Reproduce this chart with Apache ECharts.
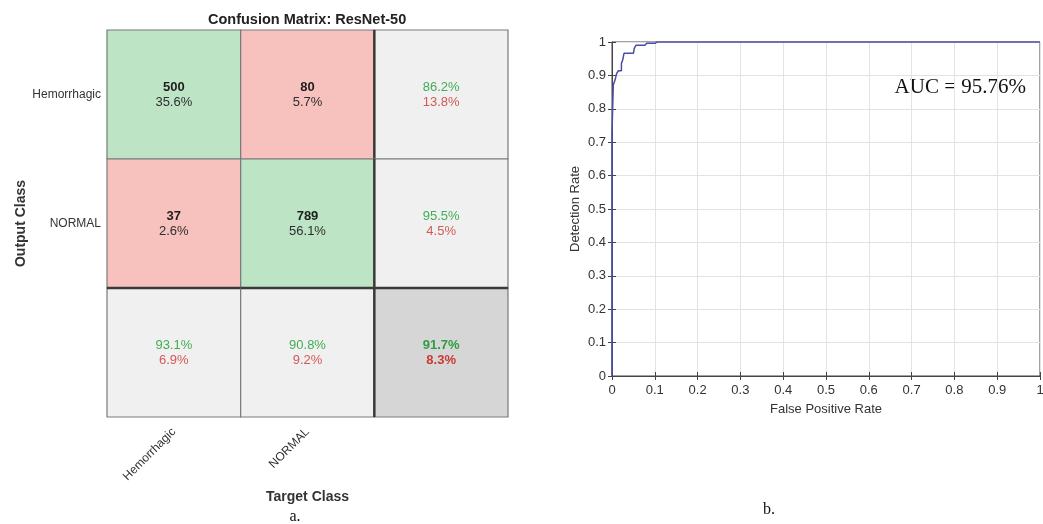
<!DOCTYPE html>
<html>
<head>
<meta charset="utf-8">
<script src="https://cdn.jsdelivr.net/npm/echarts@6/dist/echarts.min.js"></script>
<style>html,body{margin:0;padding:0;background:#fff}#c{width:1043px;height:524px}</style>
</head>
<body>
<div id="c"></div>
<script>
// ---- Confusion matrix data ----
const classes = ['Hemorrhagic', 'NORMAL'];
const counts = [[500, 80], [37, 789]];          // rows = output class, cols = target class
const cellPct = [[35.6, 5.7], [2.6, 56.1]];
const rowCorrect = [86.2, 95.5];
const rowWrong = [13.8, 4.5];
const colCorrect = [93.1, 90.8];
const colWrong = [6.9, 9.2];
const overall = [91.7, 8.3];

// ---- ROC data ----
const fpr = [0, 0, 0.002, 0.002, 0.003, 0.003, 0.007, 0.007, 0.011, 0.011, 0.015, 0.015, 0.022, 0.022, 0.025, 0.025, 0.028, 0.028, 0.05, 0.052, 0.052, 0.056, 0.056, 0.077, 0.081, 0.081, 0.1, 0.105, 1];
const tpr = [0, 0.726, 0.726, 0.826, 0.826, 0.871, 0.871, 0.886, 0.886, 0.906, 0.906, 0.914, 0.914, 0.936, 0.936, 0.946, 0.946, 0.966, 0.966, 0.966, 0.981, 0.981, 0.99, 0.99, 0.99, 0.996, 0.996, 1, 1];
const rocTicks = [0, 0.1, 0.2, 0.3, 0.4, 0.5, 0.6, 0.7, 0.8, 0.9, 1];

const FONT = 'Liberation Sans, Arial, sans-serif';
const SERIF = 'Liberation Serif, Times New Roman, serif';
const GREEN = '#BDE5C5', PINK = '#F7C2BD', LGRAY = '#F0F0F0', DGRAY = '#D6D6D6';

// Build cell list: [x, y, kind, text]
const cells = [];
for (let r = 0; r < 2; r++) {
  for (let c = 0; c < 2; c++) {
    cells.push([c, r, r === c ? 'g' : 'p', '{b|' + counts[r][c] + '}\n{n|' + cellPct[r][c].toFixed(1) + '%}']);
  }
  cells.push([2, r, 'l', '{gr|' + rowCorrect[r].toFixed(1) + '%}\n{rd|' + rowWrong[r].toFixed(1) + '%}']);
}
for (let c = 0; c < 2; c++) {
  cells.push([c, 2, 'l', '{gr|' + colCorrect[c].toFixed(1) + '%}\n{rd|' + colWrong[c].toFixed(1) + '%}']);
}
cells.push([2, 2, 'd', '{grb|' + overall[0].toFixed(1) + '%}\n{rdb|' + overall[1].toFixed(1) + '%}']);

const fillOf = {g: GREEN, p: PINK, l: LGRAY, d: DGRAY};
const richBase = {fontFamily: FONT, fontSize: 13, lineHeight: 15, align: 'center'};
const rich = {
  b: Object.assign({}, richBase, {fontWeight: 'bold', fill: '#1e1e1e'}),
  n: Object.assign({}, richBase, {fill: '#2e2e2e'}),
  gr: Object.assign({}, richBase, {fill: '#43AD55'}),
  rd: Object.assign({}, richBase, {fill: '#D25A55'}),
  grb: Object.assign({}, richBase, {fontWeight: 'bold', fill: '#2F9E41'}),
  rdb: Object.assign({}, richBase, {fontWeight: 'bold', fill: '#CC3A33'})
};

const chart = echarts.init(document.getElementById('c'));
chart.setOption({
  backgroundColor: '#fff',
  animation: false,
  title: {
    text: 'Confusion Matrix: ResNet-50',
    left: 203, top: 7,
    textStyle: {fontFamily: FONT, fontSize: 14.5, fontWeight: 'bold', color: '#222'}
  },
  grid: [
    {left: 107, top: 30, width: 401, height: 387, outerBoundsMode: 'none', containLabel: false},
    {left: 612, top: 42, width: 428, height: 334, show: true, borderColor: '#444', borderWidth: 1,
      outerBoundsMode: 'none', containLabel: false}
  ],
  xAxis: [
    {
      gridIndex: 0, type: 'category', data: classes.concat(['']),
      axisLine: {show: false}, axisTick: {show: false},
      axisLabel: {rotate: 45, margin: 13, fontFamily: FONT, fontSize: 12, color: '#333'},
      name: 'Target Class', nameLocation: 'middle', nameGap: 63,
      nameTextStyle: {fontFamily: FONT, fontSize: 14, fontWeight: 'bold', color: '#333'}
    },
    {
      gridIndex: 1, type: 'value', min: 0, max: 1, interval: 0.1,
      axisLine: {show: true, lineStyle: {color: '#444'}},
      axisTick: {show: true, inside: true, length: 4, lineStyle: {color: '#444'}},
      splitLine: {show: true, lineStyle: {color: '#e3e3e3'}},
      axisLabel: {fontFamily: FONT, fontSize: 13, color: '#333', margin: 8,
        formatter: v => String(rocTicks[Math.round(v * 10)])},
      name: 'False Positive Rate', nameLocation: 'middle', nameGap: 27,
      nameTextStyle: {fontFamily: FONT, fontSize: 13, color: '#333'}
    },
    {
      gridIndex: 1, type: 'value', min: 0, max: 1, interval: 0.1, position: 'top',
      axisLine: {show: false}, axisLabel: {show: false}, splitLine: {show: false},
      axisTick: {show: true, inside: true, length: 4, lineStyle: {color: '#444'}}
    }
  ],
  yAxis: [
    {
      gridIndex: 0, type: 'category', data: classes.concat(['']), inverse: true,
      axisLine: {show: false}, axisTick: {show: false},
      axisLabel: {margin: 6, fontFamily: FONT, fontSize: 12, color: '#333'},
      name: 'Output Class', nameLocation: 'middle', nameGap: 78, nameRotate: 90,
      nameTextStyle: {fontFamily: FONT, fontSize: 14, fontWeight: 'bold', color: '#333'}
    },
    {
      gridIndex: 1, type: 'value', min: 0, max: 1, interval: 0.1,
      axisLine: {show: true, lineStyle: {color: '#444'}},
      axisTick: {show: true, inside: true, length: 4, lineStyle: {color: '#444'}},
      splitLine: {show: true, lineStyle: {color: '#e3e3e3'}},
      axisLabel: {fontFamily: FONT, fontSize: 13, color: '#333', margin: 6,
        formatter: v => String(rocTicks[Math.round(v * 10)])},
      name: 'Detection Rate', nameLocation: 'middle', nameGap: 30,
      nameTextStyle: {fontFamily: FONT, fontSize: 13, color: '#333'}
    },
    {
      gridIndex: 1, type: 'value', min: 0, max: 1, interval: 0.1, position: 'right',
      axisLine: {show: false}, axisLabel: {show: false}, splitLine: {show: false},
      axisTick: {show: true, inside: true, length: 4, lineStyle: {color: '#444'}}
    }
  ],
  series: [
    {
      type: 'custom', xAxisIndex: 0, yAxisIndex: 0,
      data: cells,
      renderItem: function (params, api) {
        const x = api.value(0), y = api.value(1);
        const kind = cells[params.dataIndex][2];
        const txt = cells[params.dataIndex][3];
        const c = api.coord([x, y]);
        const s = api.size([1, 1]);
        const x0 = c[0] - s[0] / 2, y0 = c[1] - s[1] / 2;
        const children = [{
          type: 'rect',
          shape: {x: x0, y: y0, width: s[0], height: s[1]},
          style: {fill: fillOf[kind], stroke: '#7a7a7a', lineWidth: 1.2}
        }, {
          type: 'text',
          x: c[0], y: c[1],
          style: {text: txt, align: 'center', verticalAlign: 'middle', rich: rich}
        }];
        if (x === 2) {
          children.push({type: 'line', shape: {x1: x0, y1: y0, x2: x0, y2: y0 + s[1]},
            style: {stroke: '#3a3a3a', lineWidth: 2.5}});
        }
        if (y === 2) {
          children.push({type: 'line', shape: {x1: x0, y1: y0, x2: x0 + s[0], y2: y0},
            style: {stroke: '#3a3a3a', lineWidth: 2.5}});
        }
        return {type: 'group', children: children};
      },
      z: 2
    },
    {
      type: 'line', xAxisIndex: 1, yAxisIndex: 1,
      data: fpr.map((v, i) => [v, tpr[i]]),
      showSymbol: false, symbol: 'none',
      lineStyle: {color: '#4B4BAA', width: 1.5},
      z: 5
    }
  ],
  graphic: [
    {type: 'text', x: 1026, y: 87,
      style: {text: 'AUC = 95.76%', fontFamily: SERIF, fontSize: 21, fill: '#111', align: 'right', verticalAlign: 'middle'}},
    {type: 'text', x: 295, y: 517,
      style: {text: 'a.', fontFamily: SERIF, fontSize: 16, fill: '#111', align: 'center', verticalAlign: 'middle'}},
    {type: 'text', x: 769, y: 510,
      style: {text: 'b.', fontFamily: SERIF, fontSize: 16, fill: '#111', align: 'center', verticalAlign: 'middle'}}
  ]
});
</script>
</body>
</html>
